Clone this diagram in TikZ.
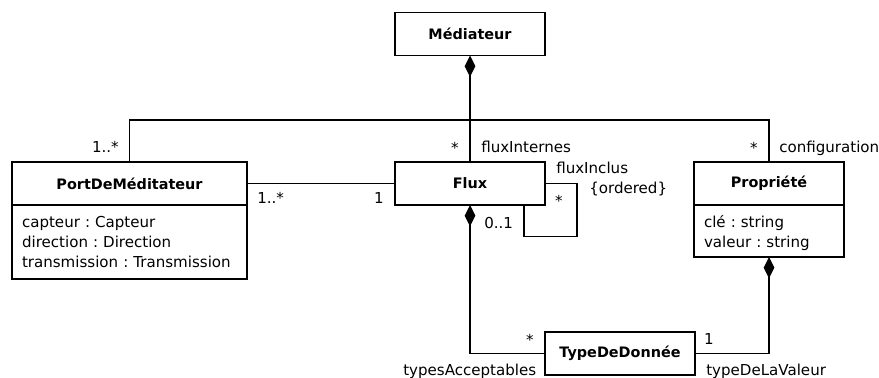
\documentclass[tikz,border=0pt]{standalone}
\usepackage{fontspec}
\setmainfont{DejaVu Sans}
\usepackage{tikz}
\usetikzlibrary{positioning,arrows.meta,calc}
\frenchspacing

\begin{document}
\begin{tikzpicture}[x=0.75pt, y=-0.75pt,
  every node/.style={font=\fontsize{11.3}{15}\selectfont},
  cls/.style={rectangle, draw, line width=1.4pt, outer sep=0pt,
              font=\fontsize{10.8}{15}\selectfont\bfseries,
              minimum width=#1, minimum height=32.25pt, inner sep=0pt},
  cls/.default=112.5pt,
  attr/.style={rectangle, draw, line width=1.4pt, outer sep=0pt, align=left,
               text width=#1, inner xsep=7.5pt, inner ysep=0pt, text height=16.5pt},
  mult/.style={inner sep=0pt},
  assoc/.style={line width=1pt},
  compo/.style={line width=1pt, {Diamond[length=16pt,width=8pt]}-},
]
\useasboundingbox (0,0) rectangle (879,378);

\node[cls] (med) at (470,34) {Médiateur};
\node[cls=176.25pt] (port) at (129.5,183.5) {PortDeMéditateur};
\node[attr=161.25pt, text depth=39pt, below=0pt of port] (portA)
    {capteur : Capteur\\direction : Direction\\transmission : Transmission};
\node[cls] (flux) at (470,183.5) {Flux};
\node[cls] (prop) at (769,183.5) {Propriété};
\node[attr=97.5pt, text depth=22.5pt, below=0pt of prop] (propA)
    {clé : string\\valeur : string};
\node[cls] (type) at (620,353.5) {TypeDeDonnée};

\coordinate (bus) at (470,120);

\draw[compo] (med.south) -- (bus);
\draw[assoc] (port.north) |- (bus) -| (prop.north);
\draw[assoc] (bus) -- (flux.north);
\draw[assoc] (port.east) -- (flux.west);
\draw[assoc] (flux.east) -- ++(32,0) -- ++(0,53) -| ($(flux.south east)+(-21,0)$);
\draw[compo] (flux.south) |- (type.west);
\draw[compo] (propA.south) |- (type.east);

\node[mult, anchor=base east] (mPortTop) at (119,152) {1..*};
\node[mult, anchor=base] (mFluxTop) at (455,153) {*};
\node[mult, anchor=base west] (rFluxTop) at (481,152) {fluxInternes};
\node[mult, anchor=base] (mPropTop) at (754,153) {*};
\node[mult, anchor=base west] (rPropTop) at (779,152) {configuration};
\node[mult, anchor=base west] (rLoop) at (556,173) {fluxInclus};
\node[mult, anchor=base west] (cLoop) at (589,193) {\{ordered\}};
\node[mult, anchor=base] (mLoop) at (559,206) {*};
\node[mult, anchor=base west] (mLoopUp) at (484,228) {0..1};
\node[mult, anchor=base west] (mPortR) at (257,204) {1..*};
\node[mult, anchor=base] (mFluxL) at (379,204) {1};
\node[mult, anchor=base] (mTypeL) at (530,345) {*};
\node[mult, anchor=base] (mTypeR) at (709,344) {1};
\node[mult, anchor=base west] (rTypeL) at (403,375) {typesAcceptables};
\node[mult, anchor=base west] (rTypeR) at (706,375) {typeDeLaValeur};
\end{tikzpicture}
\end{document}
